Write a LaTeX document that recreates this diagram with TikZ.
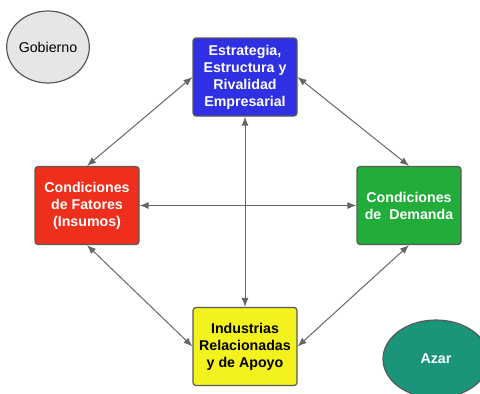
\documentclass[tikz,border=0pt]{standalone}
\usepackage{fontspec}
\setmainfont{Liberation Sans}
\usetikzlibrary{arrows.meta,shapes.geometric}
\definecolor{bordergray}{HTML}{5A5A5A}
\definecolor{arrowgray}{HTML}{666666}
\definecolor{cblue}{HTML}{2F2FE3}
\definecolor{cred}{HTML}{EE2F1C}
\definecolor{cgreen}{HTML}{22AD3A}
\definecolor{cyellow}{HTML}{F4F21C}
\definecolor{cteal}{HTML}{1A957A}
\definecolor{cgray}{HTML}{E6E6E6}
\tikzset{
  box/.style={draw=bordergray, line width=1.2bp, rounded corners=3bp, minimum width=104bp, minimum height=78bp, align=center, font=\fontsize{14.2bp}{17bp}\selectfont\bfseries, inner sep=0pt},
  oval/.style={ellipse, draw=bordergray, line width=1.2bp, inner sep=0pt, font=\fontsize{14.2bp}{17bp}\selectfont},
  link/.style={draw=arrowgray, line width=1bp, {Latex[length=9bp,width=7bp]}-{Latex[length=9bp,width=7bp]}}
}
\begin{document}
\begin{tikzpicture}[x=1bp,y=-1bp]
\useasboundingbox (0,0) rectangle (480,393);
\node[oval, fill=cgray, minimum width=80bp, minimum height=72bp] (gob) at (48,47) {Gobierno};
\node[oval, fill=cteal, text=white, font=\fontsize{14.2bp}{17bp}\selectfont\bfseries, minimum width=106bp, minimum height=78bp] (azar) at (436,359) {Azar};
\node[box, fill=cblue, text=white] (est) at (245,77) {Estrategia,\\Estructura y\\Rivalidad\\Empresarial};
\node[box, fill=cred, text=white] (fat) at (87,205.5) {Condiciones\\de Fatores\\(Insumos)};
\node[box, fill=cgreen, text=white] (dem) at (409,205.5) {Condiciones\\de\ \ Demanda};
\node[box, fill=cyellow, text=black] (ind) at (245,346.5) {Industrias\\Relacionadas\\y de Apoyo};
\draw[link] (est.west) -- (fat.north);
\draw[link] (est.east) -- (dem.north);
\draw[link] (fat.south) -- (ind.west);
\draw[link] (dem.south) -- (ind.east);
\draw[link] (est.south) -- (ind.north);
\draw[link] (fat.east) -- (dem.west);
\end{tikzpicture}
\end{document}
